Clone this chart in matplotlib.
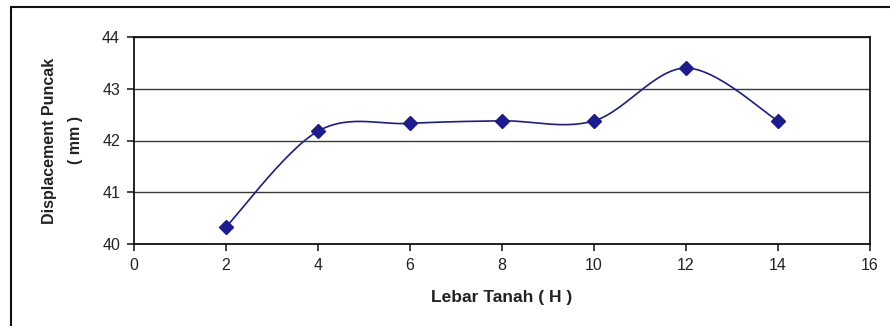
import numpy as np
import matplotlib
matplotlib.use("Agg")
import matplotlib.pyplot as plt
from matplotlib.patches import Rectangle

plt.rcParams["font.family"] = ["Liberation Sans", "DejaVu Sans"]

lebar = [2, 4, 6, 8, 10, 12, 14]
displacement = [40.33, 42.18, 42.33, 42.38, 42.38, 43.40, 42.38]


def smooth(xs, ys, n=30):
    # Excel-style smoothing: cubic Bezier with control points from neighbours
    p = np.column_stack([xs, ys]).astype(float)
    out = [p[0]]
    t = np.linspace(0, 1, n)[1:, None]
    for i in range(len(p) - 1):
        p0 = p[i - 1] if i > 0 else p[i]
        p3 = p[i + 2] if i + 2 < len(p) else p[i + 1]
        c1 = p[i] + (p[i + 1] - p0) / 6
        c2 = p[i + 1] - (p3 - p[i]) / 6
        seg = ((1 - t) ** 3) * p[i] + 3 * ((1 - t) ** 2) * t * c1 \
            + 3 * (1 - t) * t ** 2 * c2 + t ** 3 * p[i + 1]
        out.extend(seg)
    out = np.array(out)
    return out[:, 0], out[:, 1]


fig = plt.figure(figsize=(8.9, 3.26), dpi=100)
ax = fig.add_axes([134 / 890, 82 / 326, 736 / 890, 207 / 326])

sx, sy = smooth(lebar, displacement)
ax.plot(sx, sy, color="#1c1c8e", lw=1.2, zorder=3)
ax.plot(lebar, displacement, ls="none", marker="D", ms=7,
        color="#1c1c8e", zorder=4)

ax.set_xlim(0, 16)
ax.set_ylim(40, 44)
ax.set_xticks(range(0, 17, 2))
ax.set_yticks(range(40, 45))
ax.yaxis.grid(True, color="#3a3a3a", lw=1)
ax.set_axisbelow(True)
for s in ax.spines.values():
    s.set_linewidth(1.3)
    s.set_color("#111111")
ax.tick_params(direction="out", length=5, width=1.2, labelsize=11.5,
               colors="#222222", pad=5)

ax.set_xlabel("Lebar Tanah ( H )", fontsize=12.5, fontweight="bold",
              labelpad=12, color="#222222")
ax.set_ylabel("Displacement Puncak\n( mm )", fontsize=11.5, fontweight="bold",
              labelpad=14, color="#222222", linespacing=1.9)

fig.patches.append(Rectangle((11 / 890, -0.2), 1.2, (326 - 7) / 326 + 0.2,
                             transform=fig.transFigure, fill=False,
                             lw=1.5, edgecolor="#111111"))

fig.savefig("out.png", dpi=100)
